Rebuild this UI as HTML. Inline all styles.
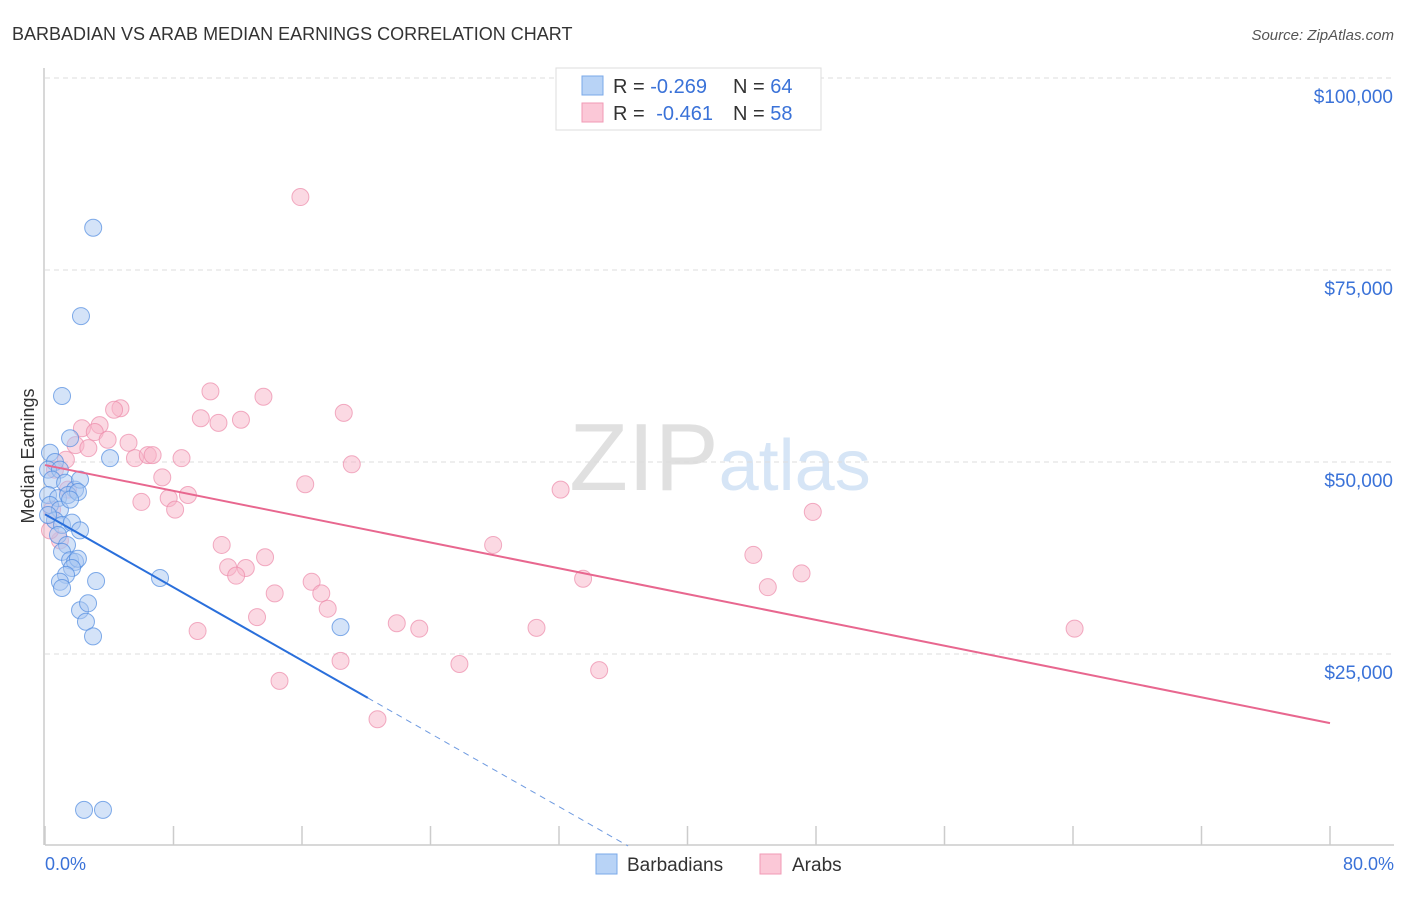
<!DOCTYPE html>
<html><head><meta charset="utf-8"><style>
body{margin:0;background:#fff;font-family:"Liberation Sans",sans-serif;}
svg text{font-family:"Liberation Sans",sans-serif;}
</style></head><body>
<svg id="chart" width="1406" height="892" xmlns="http://www.w3.org/2000/svg">
<text x="12" y="40" font-size="18" fill="#333">BARBADIAN VS ARAB MEDIAN EARNINGS CORRELATION CHART</text>
<text x="1394" y="40" font-size="15" fill="#555" text-anchor="end" font-style="italic">Source: ZipAtlas.com</text>
<text x="720" y="490" font-size="96" text-anchor="middle" fill="#e4e4e4" font-family="Liberation Serif"><tspan fill="#e0e0e0">ZIP</tspan><tspan fill="#d6e5f6" font-family="Liberation Sans" font-size="72">atlas</tspan></text>
<g id="grid"></g>
<g id="axes"></g>
<g id="marks"></g>
<text transform="translate(34,456) rotate(-90)" font-size="18" fill="#333" text-anchor="middle">Median Earnings</text>
<text x="45" y="870" font-size="18" fill="#3a72d8">0.0%</text>
<text x="1394" y="870" font-size="18" fill="#3a72d8" text-anchor="end">80.0%</text>
<g>
<rect x="556" y="68" width="265" height="62" fill="#fff" stroke="#ddd"/>
<rect x="582" y="76" width="21" height="19" fill="#b8d3f6" stroke="#7aa8e8"/>
<rect x="582" y="103" width="21" height="19" fill="#fbc8d7" stroke="#f09ab5"/>
<text x="613" y="93" font-size="20" fill="#333">R = <tspan fill="#3a72d8">-0.269</tspan><tspan x="733">N = </tspan><tspan fill="#3a72d8">64</tspan></text>
<text x="613" y="120" font-size="20" fill="#333">R = <tspan fill="#3a72d8" dx="6">-0.461</tspan><tspan x="733">N = </tspan><tspan fill="#3a72d8">58</tspan></text>
</g>
<g>
<rect x="596" y="854" width="21" height="20" fill="#b8d3f6" stroke="#7aa8e8"/>
<text x="627" y="871" font-size="19" fill="#333">Barbadians</text>
<rect x="760" y="854" width="21" height="20" fill="#fbc8d7" stroke="#f09ab5"/>
<text x="792" y="871" font-size="19" fill="#333">Arabs</text>
</g>
</svg>
<script>
const yTicks=[25000,50000,75000,100000];
const yTickLabels=["$25,000","$50,000","$75,000","$100,000"];
const xTicks=[0,8,16,24,32,40,48,56,64,72,80];
const blueX=[3.0,2.24,1.06,1.56,4.05,7.16,18.4,2.43,3.61,0.31,0.62,0.19,0.93,0.44,1.25,1.87,2.18,0.19,0.81,1.43,2.05,0.31,0.93,1.56,0.62,1.06,1.68,0.19,2.18,0.81,1.37,1.06,1.56,1.87,2.05,1.68,1.31,0.93,1.06,3.18,2.18,2.68,2.55,2.99];
const blueY=[80.5,69.0,58.6,53.1,50.5,34.9,28.5,4.7,4.7,51.2,50.0,49.0,49.0,47.7,47.3,46.4,47.7,45.7,45.3,45.7,46.1,44.4,43.8,45.1,42.4,41.8,42.1,43.1,41.1,40.5,39.2,38.3,37.2,37.0,37.4,36.2,35.3,34.4,33.6,34.5,30.7,31.6,29.2,27.3];
const pinkX=[15.9,10.3,13.6,18.6,4.7,4.3,9.7,10.8,12.2,2.3,3.4,3.1,3.9,5.2,1.9,2.7,5.6,6.4,6.7,8.5,19.1,1.3,7.3,16.2,32.1,8.9,7.7,6.0,8.1,47.8,11.0,27.9,13.7,44.1,11.4,12.5,11.9,47.1,33.5,16.6,45.0,14.3,17.2,17.6,13.2,21.9,23.3,30.6,9.5,64.1,18.4,25.8,34.5,14.6,20.7,0.62,0.93,0.31,1.43,0.44];
const pinkY=[84.5,59.2,58.5,56.4,57.0,56.8,55.7,55.1,55.5,54.4,54.8,53.9,52.9,52.5,52.2,51.8,50.5,50.9,50.9,50.5,49.7,50.3,48.0,47.1,46.4,45.7,45.3,44.8,43.8,43.5,39.2,39.2,37.6,37.9,36.3,36.2,35.2,35.5,34.8,34.4,33.7,32.9,32.9,30.9,29.8,29.0,28.3,28.4,28.0,28.3,24.1,23.7,22.9,21.5,16.5,49.0,39.8,41.1,46.4,43.8];
const blueTrend=[43.2,-1.19];
const pinkTrend=[49.6,-0.42];
const NS="http://www.w3.org/2000/svg";
const X=v=>45+v/80*1285;
const Y=v=>846-v/100000*768;
function mk(t,a,p){const e=document.createElementNS(NS,t);for(const k in a)e.setAttribute(k,a[k]);p.appendChild(e);return e;}
const grid=document.getElementById('grid'),axes=document.getElementById('axes'),marks=document.getElementById('marks');
yTicks.forEach((t,i)=>{
 const l=mk('line',{x1:45,x2:1394,y1:Y(t),y2:Y(t),stroke:'#ddd','stroke-dasharray':'5,4'},grid);
 
 
 const tx=mk('text',{x:1393,y:Y(t)+25,'font-size':19,fill:'#3a72d8','text-anchor':'end'},grid);
 tx.textContent=yTickLabels[i];
 
 
});
const ax=mk('line',{x1:45,x2:1394,y1:845,y2:845,stroke:'#ccc','stroke-width':1.5},axes);


const ay=mk('line',{x1:44,x2:44,y1:68,y2:845,stroke:'#ccc','stroke-width':1.5},axes);


xTicks.forEach(t=>{const l=mk('line',{x1:X(t),x2:X(t),y1:826,y2:845,stroke:'#ccc','stroke-width':1.5},axes);
 
 });
function dots(xs,ys,fill,stroke,name){xs.forEach((x,i)=>{const c=mk('circle',{cx:X(x),cy:Y(ys[i]*1000),r:8.5,fill:fill,'fill-opacity':0.5,stroke:stroke,'stroke-opacity':0.7,'stroke-width':1},marks);
 
 });}
dots(pinkX,pinkY,'#f8b4c8','#ec8aa9','arab-point');
dots(blueX,blueY,'#a9c8f2','#4f8ae0','barbadian-point');
const bEnd=20.1, bZero=-blueTrend[0]/blueTrend[1];
const b1=mk('line',{x1:X(0),y1:Y(blueTrend[0]*1000),x2:X(bEnd),y2:Y((blueTrend[0]+blueTrend[1]*bEnd)*1000),stroke:'#2a6fdb','stroke-width':2},marks);


const b2=mk('line',{x1:X(bEnd),y1:Y((blueTrend[0]+blueTrend[1]*bEnd)*1000),x2:X(bZero),y2:Y(0),stroke:'#6e9ae0','stroke-width':1,'stroke-dasharray':'6,5'},marks);


const p1=mk('line',{x1:X(0),y1:Y(pinkTrend[0]*1000),x2:X(80),y2:Y((pinkTrend[0]+pinkTrend[1]*80)*1000),stroke:'#e8678f','stroke-width':2},marks);


</script>
</body></html>
